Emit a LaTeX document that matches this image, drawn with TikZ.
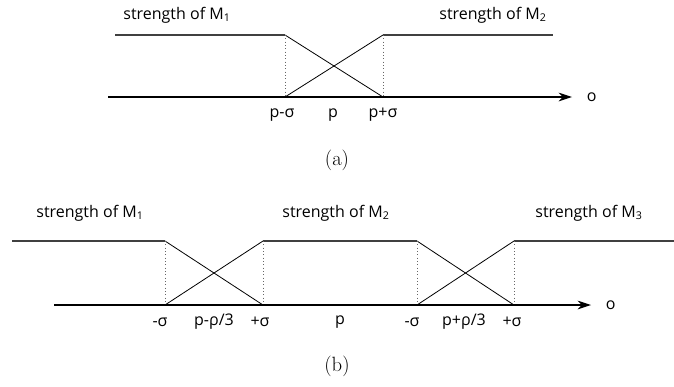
\documentclass[tikz,border=0pt]{standalone}
\usepackage{fontspec}
\setsansfont{Open Sans}
\usepackage{tikz}
\usetikzlibrary{arrows.meta, positioning}
\tikzset{
  levelline/.style={draw=black!75, line width=0.9pt},
  slopeline/.style={draw=black, line width=0.6pt},
  guideline/.style={draw=black!60, dotted, line width=0.5pt},
  axisline/.style={draw=black, line width=0.8pt, -{Stealth[length=10pt, width=6.5pt, inset=3pt]}},
  strengthlabel/.style={font=\sffamily\fontsize{12}{14}\selectfont, inner sep=0pt},
  ticklabel/.style={font=\sffamily\fontsize{12}{14}\selectfont, inner sep=0pt},
  captionlabel/.style={font=\fontsize{15.5}{18}\selectfont, inner sep=0pt}
}
\begin{document}
\begin{tikzpicture}[x=0.75pt, y=-0.75pt]
  \useasboundingbox (0,0) rectangle (674,386);

  % (a) two models around p
  \coordinate (atopA) at (115,35);
  \coordinate (atopB) at (285,35);
  \coordinate (atopC) at (383,35);
  \coordinate (atopD) at (553,35);
  \coordinate (abotB) at (285,97);
  \coordinate (abotC) at (383,97);
  \coordinate (aaxisL) at (108,97);
  \coordinate (aaxisR) at (572,97);

  \draw[levelline] (atopA) -- (atopB);
  \draw[levelline] (atopC) -- (atopD);
  \draw[slopeline] (atopB) -- (abotC);
  \draw[slopeline] (abotB) -- (atopC);
  \draw[guideline] (atopB) -- (abotB);
  \draw[guideline] (atopC) -- (abotC);
  \draw[axisline] (aaxisL) -- (aaxisR);
  \node[ticklabel, right=11pt of aaxisR] (ao) {o};

  \node[strengthlabel] (astrA) at (177,15) {strength of M\textsubscript{1}};
  \node[strengthlabel] (astrB) at (493,15) {strength of M\textsubscript{2}};

  \node[ticklabel] (atickA) at (282,115) {p-σ};
  \node[ticklabel] (atickB) at (333,115) {p};
  \node[ticklabel] (atickC) at (383,115) {p+σ};

  \node[captionlabel] (acap) at (337,160) {(a)};

  % (b) three models, shifted transitions
  \coordinate (btopA) at (12,241);
  \coordinate (btopB) at (165,241);
  \coordinate (btopC) at (263,241);
  \coordinate (btopD) at (417,241);
  \coordinate (btopE) at (514,241);
  \coordinate (btopF) at (674,241);
  \coordinate (bbotB) at (165,305);
  \coordinate (bbotC) at (263,305);
  \coordinate (bbotD) at (417,305);
  \coordinate (bbotE) at (514,305);
  \coordinate (baxisL) at (54,305);
  \coordinate (baxisR) at (591,305);

  \draw[levelline] (btopA) -- (btopB);
  \draw[levelline] (btopC) -- (btopD);
  \draw[levelline] (btopE) -- (btopF);
  \draw[slopeline] (btopB) -- (bbotC);
  \draw[slopeline] (bbotB) -- (btopC);
  \draw[slopeline] (btopD) -- (bbotE);
  \draw[slopeline] (bbotD) -- (btopE);
  \draw[guideline] (btopB) -- (bbotB);
  \draw[guideline] (btopC) -- (bbotC);
  \draw[guideline] (btopD) -- (bbotD);
  \draw[guideline] (btopE) -- (bbotE);
  \draw[axisline] (baxisL) -- (baxisR);
  \node[ticklabel, right=11pt of baxisR] (bo) {o};

  \node[strengthlabel] (bstrA) at (90,213) {strength of M\textsubscript{1}};
  \node[strengthlabel] (bstrB) at (336,213) {strength of M\textsubscript{2}};
  \node[strengthlabel] (bstrC) at (589,213) {strength of M\textsubscript{3}};

  \node[ticklabel] (btickA) at (160,322) {-σ};
  \node[ticklabel] (btickB) at (214,322) {p-ρ/3};
  \node[ticklabel] (btickC) at (260,322) {+σ};
  \node[ticklabel] (btickD) at (340,322) {p};
  \node[ticklabel] (btickE) at (412,322) {-σ};
  \node[ticklabel] (btickF) at (464,322) {p+ρ/3};
  \node[ticklabel] (btickG) at (512,322) {+σ};

  \node[captionlabel] (bcap) at (337,366) {(b)};
\end{tikzpicture}
\end{document}
